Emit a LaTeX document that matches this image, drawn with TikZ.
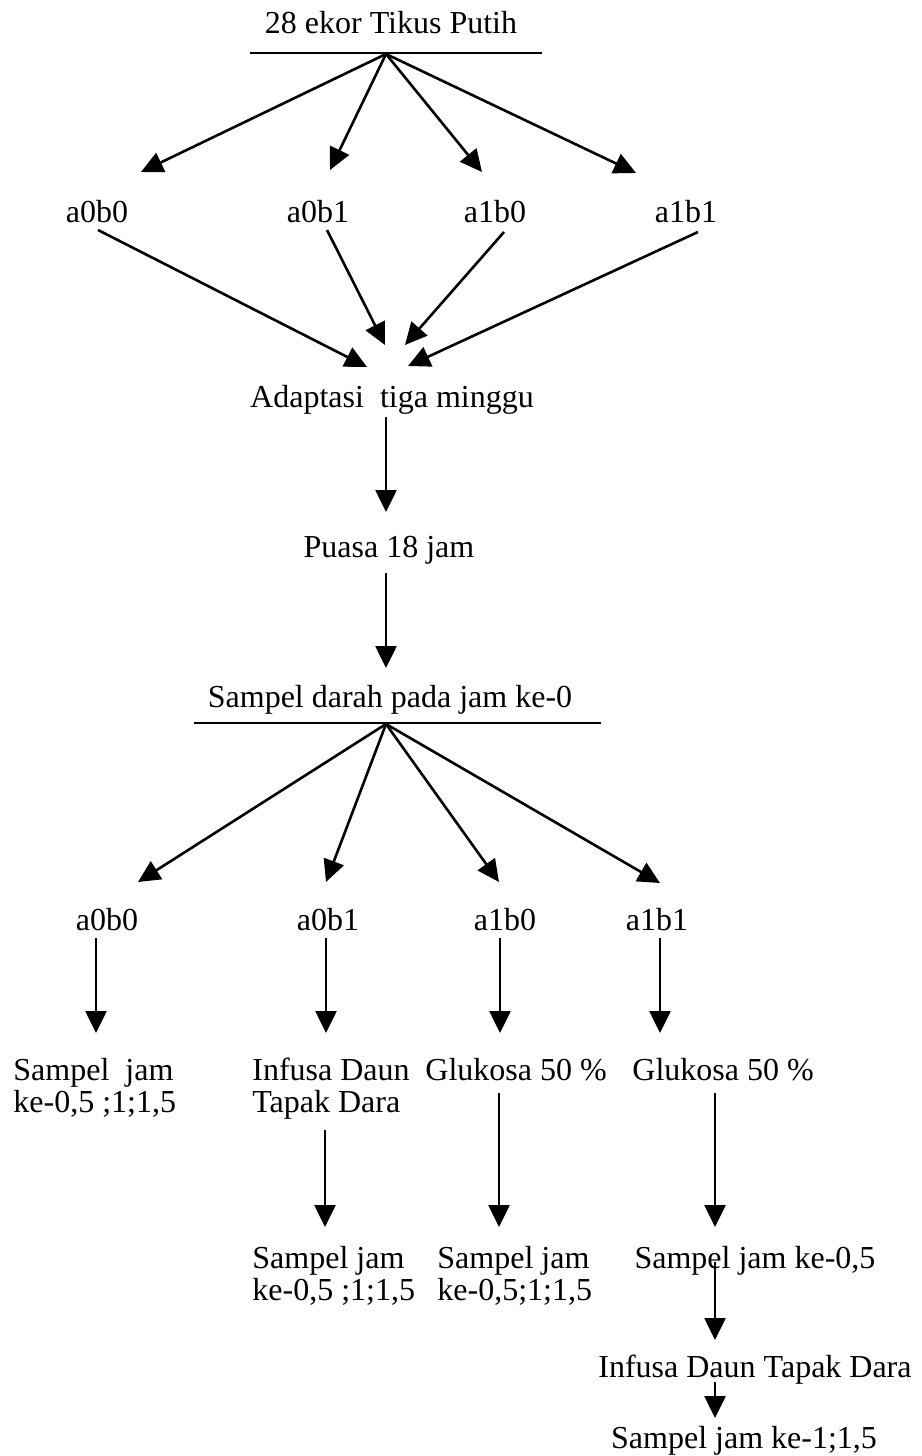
\documentclass[tikz,border=0pt]{standalone}
\usepackage{fontspec}
\setmainfont{Liberation Serif}
\usetikzlibrary{arrows.meta}
\begin{document}
\begin{tikzpicture}[x=0.5pt,y=-0.5pt,
  lbl/.style={inner sep=0pt, anchor=base, font=\fontsize{16}{16}\selectfont},
  lbll/.style={lbl, anchor=base west},
  arr/.style={line width=1.3pt, -{Triangle[length=11pt,width=10.5pt]}},
  bar/.style={line width=1.4pt}]
\useasboundingbox (0,0) rectangle (921,1456);

% title
\node[lbl] (title) at (391,33) {28 ekor Tikus Putih};
\coordinate (ul1l) at (250,53);
\coordinate (ul1r) at (542,53);
\draw[bar] (ul1l) -- (ul1r);
\coordinate (apex1) at (386,54);

% row 1
\node[lbl] (r1a) at (97,222) {a0b0};
\node[lbl] (r1b) at (318,222) {a0b1};
\node[lbl] (r1c) at (495,222) {a1b0};
\node[lbl] (r1d) at (686,222) {a1b1};
\coordinate (t1a) at (141,172);
\coordinate (t1b) at (330,170);
\coordinate (t1c) at (482,172);
\coordinate (t1d) at (636,173);
\draw[arr] (apex1) -- (t1a);
\draw[arr] (apex1) -- (t1b);
\draw[arr] (apex1) -- (t1c);
\draw[arr] (apex1) -- (t1d);

% row 1 -> adaptasi
\coordinate (s1a) at (98,230);
\coordinate (s1b) at (327,230);
\coordinate (s1c) at (504,232);
\coordinate (s1d) at (698,232);
\coordinate (u1a) at (367,367);
\coordinate (u1b) at (385,345);
\coordinate (u1c) at (405,345);
\coordinate (u1d) at (408,366);
\draw[arr] (s1a) -- (u1a);
\draw[arr] (s1b) -- (u1b);
\draw[arr] (s1c) -- (u1c);
\draw[arr] (s1d) -- (u1d);

\node[lbl] (adapt) at (392,407) {Adaptasi\ \ tiga minggu};
\coordinate (adaptb) at (386,417);
\coordinate (puasat) at (386,512);
\draw[arr] (adaptb) -- (puasat);

\node[lbl] (puasa) at (389,557) {Puasa 18 jam};
\coordinate (puasab) at (386,573);
\coordinate (sampt) at (386,668);
\draw[arr] (puasab) -- (sampt);

\node[lbl] (samp0) at (390,707) {Sampel darah pada jam ke-0};
\coordinate (ul2l) at (194,723);
\coordinate (ul2r) at (601,723);
\draw[bar] (ul2l) -- (ul2r);
\coordinate (apex2) at (386,724);

% row 2
\node[lbl] (r2a) at (107,930) {a0b0};
\node[lbl] (r2b) at (328,930) {a0b1};
\node[lbl] (r2c) at (505,930) {a1b0};
\node[lbl] (r2d) at (657,930) {a1b1};
\coordinate (t2a) at (138,882);
\coordinate (t2b) at (326,882);
\coordinate (t2c) at (499,882);
\coordinate (t2d) at (660,883);
\draw[arr] (apex2) -- (t2a);
\draw[arr] (apex2) -- (t2b);
\draw[arr] (apex2) -- (t2c);
\draw[arr] (apex2) -- (t2d);

% row 2 -> row 3
\coordinate (s2a) at (96,938);   \coordinate (u2a) at (96,1033);
\coordinate (s2b) at (326,938);  \coordinate (u2b) at (326,1033);
\coordinate (s2c) at (500,938);  \coordinate (u2c) at (500,1033);
\coordinate (s2d) at (660,938);  \coordinate (u2d) at (660,1033);
\draw[arr] (s2a) -- (u2a);
\draw[arr] (s2b) -- (u2b);
\draw[arr] (s2c) -- (u2c);
\draw[arr] (s2d) -- (u2d);

% row 3
\node[lbll] (r3a) at (13,1080) {\begin{tabular}[t]{@{}l@{}}Sampel\ \ jam\\ke-0,5 ;1;1,5\end{tabular}};
\node[lbll] (r3b) at (252,1080) {\begin{tabular}[t]{@{}l@{}}Infusa Daun\\Tapak Dara\end{tabular}};
\node[lbll] (r3c) at (425,1080) {Glukosa 50 \%};
\node[lbll] (r3d) at (632,1080) {Glukosa 50 \%};

% row 3 -> row 4
\coordinate (s3b) at (325,1130); \coordinate (u3b) at (325,1227);
\coordinate (s3c) at (499,1093); \coordinate (u3c) at (499,1227);
\coordinate (s3d) at (715,1093); \coordinate (u3d) at (715,1227);
\draw[arr] (s3b) -- (u3b);
\draw[arr] (s3c) -- (u3c);
\draw[arr] (s3d) -- (u3d);

% row 4
\node[lbll] (r4b) at (252,1268) {\begin{tabular}[t]{@{}l@{}}Sampel jam\\ke-0,5 ;1;1,5\end{tabular}};
\node[lbll] (r4c) at (437,1268) {\begin{tabular}[t]{@{}l@{}}Sampel jam\\ke-0,5;1;1,5\end{tabular}};
\node[lbl] (r4d) at (755,1268) {Sampel jam ke-0,5};

\coordinate (s4d) at (715,1262); \coordinate (u4d) at (715,1340);
\draw[arr] (s4d) -- (u4d);
\node[lbl] (r5d) at (755,1377) {Infusa Daun Tapak Dara};
\coordinate (s5d) at (715,1382); \coordinate (u5d) at (715,1418);
\draw[arr] (s5d) -- (u5d);
\node[lbl] (r6d) at (744,1448) {Sampel jam ke-1;1,5};
\end{tikzpicture}
\end{document}
